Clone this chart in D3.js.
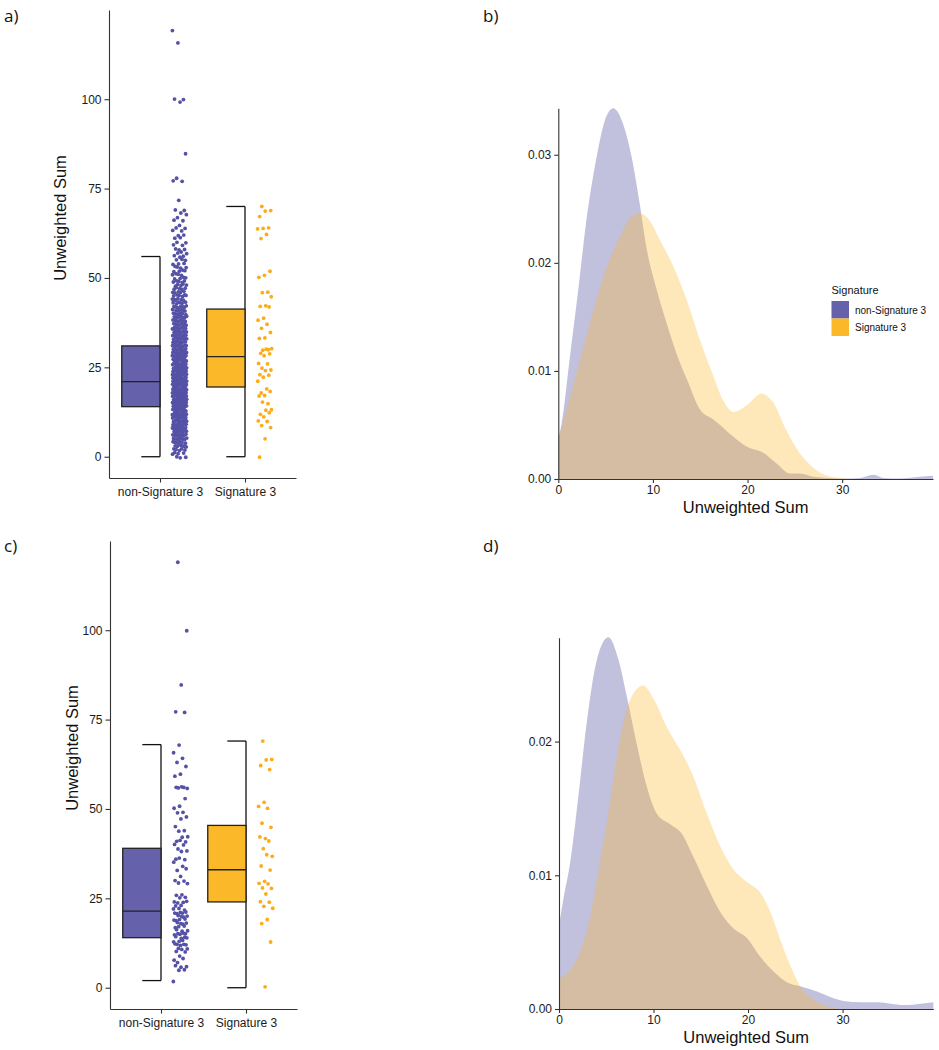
<!DOCTYPE html>
<html>
<head>
<meta charset="utf-8">
<script src="https://cdn.jsdelivr.net/npm/d3@7"></script>
<style>
  html, body { margin: 0; padding: 0; background: #fff; }
  svg { display: block; }
  text { font-family: "Liberation Sans", Arial, sans-serif; }
</style>
</head>
<body>
<svg id="chart" width="939" height="1050"></svg>
<script>
// ---------------- DATA ----------------
const categories = ["non-Signature 3", "Signature 3"];
const yTicksBox = [0, 25, 50, 75, 100];
const xTicksDens = [0, 10, 20, 30];
const yTicksB = [0, 0.01, 0.02, 0.03];
const yTicksD = [0, 0.01, 0.02];

// box stats: [lower whisker, Q1, median, Q3, upper whisker]
const boxStatsA = [[0, 14, 21, 31, 56], [0, 19.5, 28, 41.3, 70]];
const boxStatsC = [[2, 14, 21.4, 39, 68], [0, 24, 33, 45.4, 69]];

// panel a, non-Signature 3: count of samples at each value 0..69
const nonSigACounts = [3,4,5,6,7,8,9,10,11,12,13,14,15,16,16,17,17,17,17,17,
  16,16,15,15,14,13,13,12,12,11,11,10,10,10,9,9,9,8,8,8,
  7,7,7,6,6,6,5,5,5,5,4,4,4,4,3,3,3,3,3,2,
  2,2,2,2,2,1,2,1,2,2];
const nonSigAOutliers = [72, 77, 77, 78, 85, 99, 100, 100, 116, 119];
const sigA = [70, 69, 69, 67, 64, 64, 64, 62, 61, 52, 51, 50, 46, 46, 45, 42, 42, 42,
  39, 38, 37, 36, 35, 33, 33, 30, 30, 30, 30, 29, 29, 28, 26, 26, 25, 24, 24, 23, 23,
  22, 21, 19, 18, 18, 17, 17, 15, 15, 13, 13, 12, 12, 11, 10, 10, 9, 8, 5, 0];

const nonSigC = [119, 100, 85, 77, 77, 68, 66, 64, 63, 62, 60, 59, 56, 56, 56, 56, 56,
  53, 51, 50, 49, 49, 48, 47, 45, 44, 44, 42, 42, 41, 41, 41, 40, 40, 39, 38, 38, 36,
  36, 36, 35, 34, 33, 33, 31, 30, 30, 29, 29, 26, 26, 25, 25, 24, 24, 24, 24, 23, 23,
  22, 22, 22, 21, 21, 21, 21, 21, 20, 20, 20, 20, 19, 19, 19, 19, 18, 18, 18, 18, 17,
  17, 17, 16, 16, 16, 15, 15, 15, 15, 15, 14, 14, 14, 14, 13, 13, 13, 12, 12, 12, 12,
  12, 11, 11, 11, 10, 10, 9, 8, 8, 7, 6, 6, 6, 5, 5, 2];
const sigC = [69, 64, 64, 62, 61, 52, 51, 50, 46, 45, 42, 42, 41, 39, 37, 37, 34, 33,
  30, 29, 29, 28, 28, 26, 24, 24, 23, 22, 19, 18, 13, 0];

// density curves [x, density]
const densBNonSig = [[0,0.0038],[0.35,0.0051],[1.23,0.0113],[2.11,0.0175],[2.92,0.0236],
  [4.05,0.0298],[4.93,0.0332],[5.81,0.0343],[6.7,0.0332],[7.75,0.0298],[8.6,0.0255],
  [9.3,0.0215],[10.4,0.0175],[11.45,0.0144],[12.5,0.0116],[13.6,0.0092],[15.0,0.0064],
  [16.4,0.0055],[17.1,0.005],[18.5,0.0039],[19.9,0.003],[21.7,0.0024],[23.1,0.0014],
  [24.5,0.0005],[25.5,0.0005],[27,0.0002],[28.4,0.0001],[30.1,0.00005],[31.9,0.0001],
  [33.3,0.0004],[34.4,0.0001],[36.1,0.00005],[38.2,0.0002],[39.6,0.0003]];
const densBSig = [[0,0.0037],[0.88,0.0064],[2.29,0.011],[3.7,0.0156],[5.1,0.0196],
  [6.5,0.0224],[7.9,0.0244],[8.6,0.0246],[9.5,0.0241],[10.75,0.0221],[12.2,0.0196],
  [13.6,0.0165],[15.0,0.0128],[16.4,0.0095],[17.4,0.0073],[18.5,0.0062],[19.9,0.0068],
  [21.5,0.0079],[22.7,0.0071],[24.1,0.0045],[25.5,0.0024],[27,0.001],[28.4,0.0003],
  [29.8,0.0001],[31,0],[39.6,0]];
const densDNonSig = [[0,0.0062],[0.46,0.0082],[1.17,0.0109],[2.05,0.0159],[2.93,0.0214],
  [4.0,0.0261],[5.23,0.0278],[6.3,0.0261],[7.17,0.0234],[8.2,0.0199],[9.3,0.0166],
  [10.35,0.0146],[11.8,0.0138],[13.0,0.0131],[14.2,0.0114],[15.65,0.0092],[17.1,0.0072],
  [18.5,0.006],[19.9,0.0053],[21.3,0.0039],[22.7,0.0028],[24.1,0.002],[25.5,0.0017],
  [27.3,0.0013],[28.7,0.0009],[30.1,0.0006],[31.9,0.0005],[33.7,0.0005],[35.1,0.0004],
  [36.5,0.0003],[38.3,0.0004],[39.6,0.0005]];
const densDSig = [[0,0.0023],[1.17,0.0029],[2.2,0.0042],[3.3,0.0069],[4.3,0.0109],
  [5.05,0.0139],[5.9,0.0179],[6.8,0.0214],[7.7,0.0234],[8.9,0.0242],[10,0.0232],
  [11.4,0.0211],[12.8,0.0194],[14.2,0.0174],[15.65,0.0146],[17.1,0.0121],[18.5,0.0104],
  [19.9,0.0095],[21.3,0.0087],[22.4,0.0072],[23.4,0.0052],[24.5,0.0032],[25.7,0.0015],
  [27,0.0007],[28.4,0.0002],[29.8,0],[39.6,0]];

// ---------------- STYLE ----------------
const purple = "#6561AA", purplePt = "#5552A6";
const orange = "#FBB829", orangePt = "#FDAC19";
const axisCol = "#333333";

const svg = d3.select("#chart");

function expandList(counts, extra) {
  const out = [];
  counts.forEach((c, v) => { for (let k = 0; k < c; k++) out.push(v); });
  return out.concat(extra);
}

function styleAxis(g) {
  g.select(".domain").attr("stroke", axisCol).attr("stroke-width", 1.1);
  g.selectAll(".tick line").attr("stroke", axisCol).attr("stroke-width", 1.1);
  g.selectAll(".tick text").attr("fill", "#1a1a1a").style("font-size", "12px")
    .style("font-family", "'Liberation Sans', Arial, sans-serif");
}

function boxPanel(opt) {
  const x = d3.scalePoint().domain(categories).range([opt.x0, opt.x1]).padding(0.6);
  const y = d3.scaleLinear().domain([-5.95, 124.95]).range([opt.yb, opt.yt]);
  const step = x.step();
  const g = svg.append("g");

  const ya = g.append("g").attr("transform", `translate(${opt.x0},0)`)
    .call(d3.axisLeft(y).tickValues(yTicksBox).tickSize(4.5).tickSizeOuter(0).tickPadding(3));
  styleAxis(ya);
  const xa = g.append("g").attr("transform", `translate(0,${opt.yb})`)
    .call(d3.axisBottom(x).tickSize(4.5).tickSizeOuter(0).tickPadding(5));
  styleAxis(xa);

  const fills = [purple, orange], ptCols = [purplePt, orangePt];
  opt.stats.forEach((s, i) => {
    const cx = x(categories[i]);
    const bw = 0.45 * step;
    g.append("line").attr("x1", cx).attr("x2", cx).attr("y1", y(s[0])).attr("y2", y(s[4]))
      .attr("stroke", "#111").attr("stroke-width", 1.3);
    [s[0], s[4]].forEach(v => {
      g.append("line").attr("x1", cx - 0.22 * step).attr("x2", cx).attr("y1", y(v)).attr("y2", y(v))
        .attr("stroke", "#111").attr("stroke-width", 1.3);
    });
    g.append("rect").attr("x", cx - bw).attr("width", bw)
      .attr("y", y(s[3])).attr("height", y(s[1]) - y(s[3]))
      .attr("fill", fills[i]).attr("stroke", "#222").attr("stroke-width", 1.3);
    g.append("line").attr("x1", cx - bw).attr("x2", cx).attr("y1", y(s[2])).attr("y2", y(s[2]))
      .attr("stroke", "#222").attr("stroke-width", 1.3);

    // jittered points (deterministic low-discrepancy offsets, x and small y jitter)
    const vals = opt.points[i];
    const center = cx + 0.23 * step, jw = 0.085 * step;
    g.append("g").selectAll("circle").data(vals).join("circle")
      .attr("cx", (d, k) => center + (((k * 0.6180339887 + 0.31) % 1) - 0.5) * 2 * jw)
      .attr("cy", (d, k) => y(d + (((k * 0.7548776662 + 0.5) % 1) - 0.5) * 0.6))
      .attr("r", 1.9)
      .attr("fill", ptCols[i]);
  });

  g.append("text").attr("transform", `translate(${opt.titleX},${opt.titleY}) rotate(-90)`)
    .attr("text-anchor", "middle").style("font-size", "16.5px").attr("fill", "#111")
    .text("Unweighted Sum");
}

function densPanel(opt) {
  const x = d3.scaleLinear().domain([0, 39.6]).range([opt.x0, opt.x1]);
  const y = d3.scaleLinear().domain([0, opt.ymax]).range([opt.yb, opt.yt]);
  const g = svg.append("g");
  const area = d3.area().x(d => x(d[0])).y0(y(0)).y1(d => y(d[1])).curve(d3.curveMonotoneX);
  g.append("path").datum(opt.nonSig).attr("d", area).attr("fill", purple).attr("fill-opacity", 0.4);
  g.append("path").datum(opt.sig).attr("d", area).attr("fill", orange).attr("fill-opacity", 0.32);

  const ya = g.append("g").attr("transform", `translate(${opt.x0},0)`)
    .call(d3.axisLeft(y).tickValues(opt.yTicks).tickFormat(d3.format(".2f"))
      .tickSize(4).tickSizeOuter(0).tickPadding(3));
  styleAxis(ya);
  const xa = g.append("g").attr("transform", `translate(0,${opt.yb})`)
    .call(d3.axisBottom(x).tickValues(xTicksDens).tickSize(4).tickSizeOuter(0).tickPadding(2));
  styleAxis(xa);
  g.append("text").attr("x", (opt.x0 + opt.x1) / 2).attr("y", opt.yb + 34)
    .attr("text-anchor", "middle").style("font-size", "16.5px").attr("fill", "#111")
    .text("Unweighted Sum");
}

boxPanel({ x0: 109, x1: 296, yt: 10, yb: 478, stats: boxStatsA,
  points: [expandList(nonSigACounts, nonSigAOutliers), sigA], titleX: 66, titleY: 218 });
boxPanel({ x0: 110, x1: 297, yt: 541, yb: 1009, stats: boxStatsC,
  points: [nonSigC, sigC], titleX: 78, titleY: 748 });

densPanel({ x0: 558.3, x1: 933, yt: 108.3, yb: 479, ymax: 0.0343, yTicks: yTicksB,
  nonSig: densBNonSig, sig: densBSig });
densPanel({ x0: 559, x1: 933.3, yt: 637.7, yb: 1009, ymax: 0.02777, yTicks: yTicksD,
  nonSig: densDNonSig, sig: densDSig });

// legend (panel b)
const lg = svg.append("g").attr("transform", "translate(831.5,0)");
lg.append("text").attr("x", 0).attr("y", 294).style("font-size", "11px").attr("fill", "#111").text("Signature");
[[purple, categories[0]], [orange, categories[1]]].forEach((c, i) => {
  lg.append("rect").attr("x", 0).attr("y", 301 + i * 17.5).attr("width", 17.5).attr("height", 17.5)
    .attr("fill", c[0]);
  lg.append("text").attr("x", 23.5).attr("y", 313.5 + i * 17.5).style("font-size", "10px")
    .attr("fill", "#111").text(c[1]);
});

// panel labels
const lbl = [["a)", 4, 22], ["b)", 483, 22], ["c)", 4, 552], ["d)", 483, 552]];
lbl.forEach(l => svg.append("text").attr("x", l[1]).attr("y", l[2])
  .style("font-family", "'Open Sans', 'Noto Sans', sans-serif").style("font-size", "17px")
  .attr("fill", "#111").text(l[0]));
</script>
</body>
</html>
